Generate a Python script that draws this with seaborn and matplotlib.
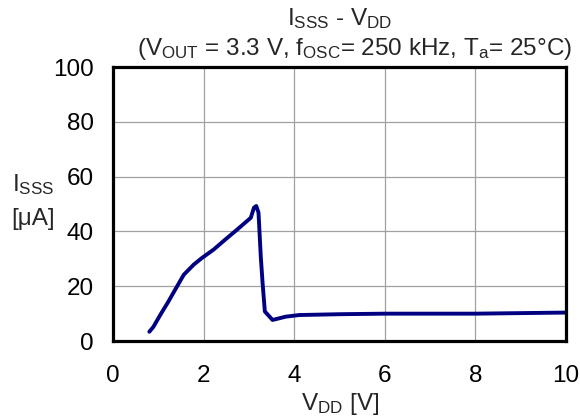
import matplotlib
matplotlib.use("Agg")
import matplotlib.pyplot as plt
import seaborn as sns
import pandas as pd

# Supply current vs. supply voltage
vdd = [0.80, 0.89, 1.04, 1.22, 1.41, 1.56, 1.78, 1.96, 2.22, 2.48, 2.74, 3.04,
       3.11, 3.16, 3.21, 3.26, 3.30, 3.35, 3.52, 3.81, 4.11, 5.0, 6.0, 7.0,
       8.0, 9.0, 10.0]
isss = [3.4, 5.2, 9.5, 14.4, 19.9, 24.2, 27.9, 30.3, 33.4, 37.1, 40.7, 45.0,
        48.7, 49.3, 46.9, 30.9, 21.2, 10.8, 7.7, 8.9, 9.5, 9.8, 10.0, 10.0,
        10.0, 10.2, 10.4]
x_ticks = [0, 2, 4, 6, 8, 10]
y_ticks = [0, 20, 40, 60, 80, 100]

sns.set_theme(style="white")
plt.rcParams["font.family"] = ["Liberation Sans", "DejaVu Sans"]
plt.rcParams["mathtext.fontset"] = "custom"
plt.rcParams["mathtext.rm"] = "Liberation Sans"
plt.rcParams["mathtext.it"] = "Liberation Sans"
plt.rcParams["mathtext.default"] = "regular"

FS = 17.5
df = pd.DataFrame({"VDD": vdd, "ISSS": isss})

fig = plt.figure(figsize=(5.8, 4.19), dpi=100)
ax = fig.add_axes([0.195, 0.186, 0.781, 0.654])

sns.lineplot(data=df, x="VDD", y="ISSS", ax=ax, color="#000080",
             linewidth=2.8, sort=False)

ax.set_xlim(0, 10)
ax.set_ylim(0, 100)
ax.set_xticks(x_ticks)
ax.set_yticks(y_ticks)
ax.set_xticklabels([str(t) for t in x_ticks], fontsize=FS, color="black")
ax.set_yticklabels([str(t) for t in y_ticks], fontsize=FS, color="black")
ax.tick_params(axis="x", length=0, pad=17)
ax.tick_params(axis="y", length=0, pad=14)
ax.grid(True, color="#a0a0a0", linewidth=0.9)
for s in ax.spines.values():
    s.set_color("black")
    s.set_linewidth(2.3)
ax.set_xlabel("")
ax.set_ylabel("")

fig.text(0.586, 0.985, r"I$_{SSS}$ - V$_{DD}$", ha="center", va="top",
         fontsize=FS)
fig.text(0.612, 0.915,
         r"(V$_{OUT}$ = 3.3 V, f$_{OSC}$= 250 kHz, T$_{a}$= 25°C)",
         ha="center", va="top", fontsize=FS)
fig.text(0.586, 0.005, r"V$_{DD}$ [V]", ha="center", va="bottom", fontsize=FS)
fig.text(0.02, 0.56, r"I$_{SSS}$", ha="left", va="center", fontsize=FS)
fig.text(0.02, 0.478, "[μA]", ha="left", va="center", fontsize=FS)

fig.savefig("out.png", dpi=100)
